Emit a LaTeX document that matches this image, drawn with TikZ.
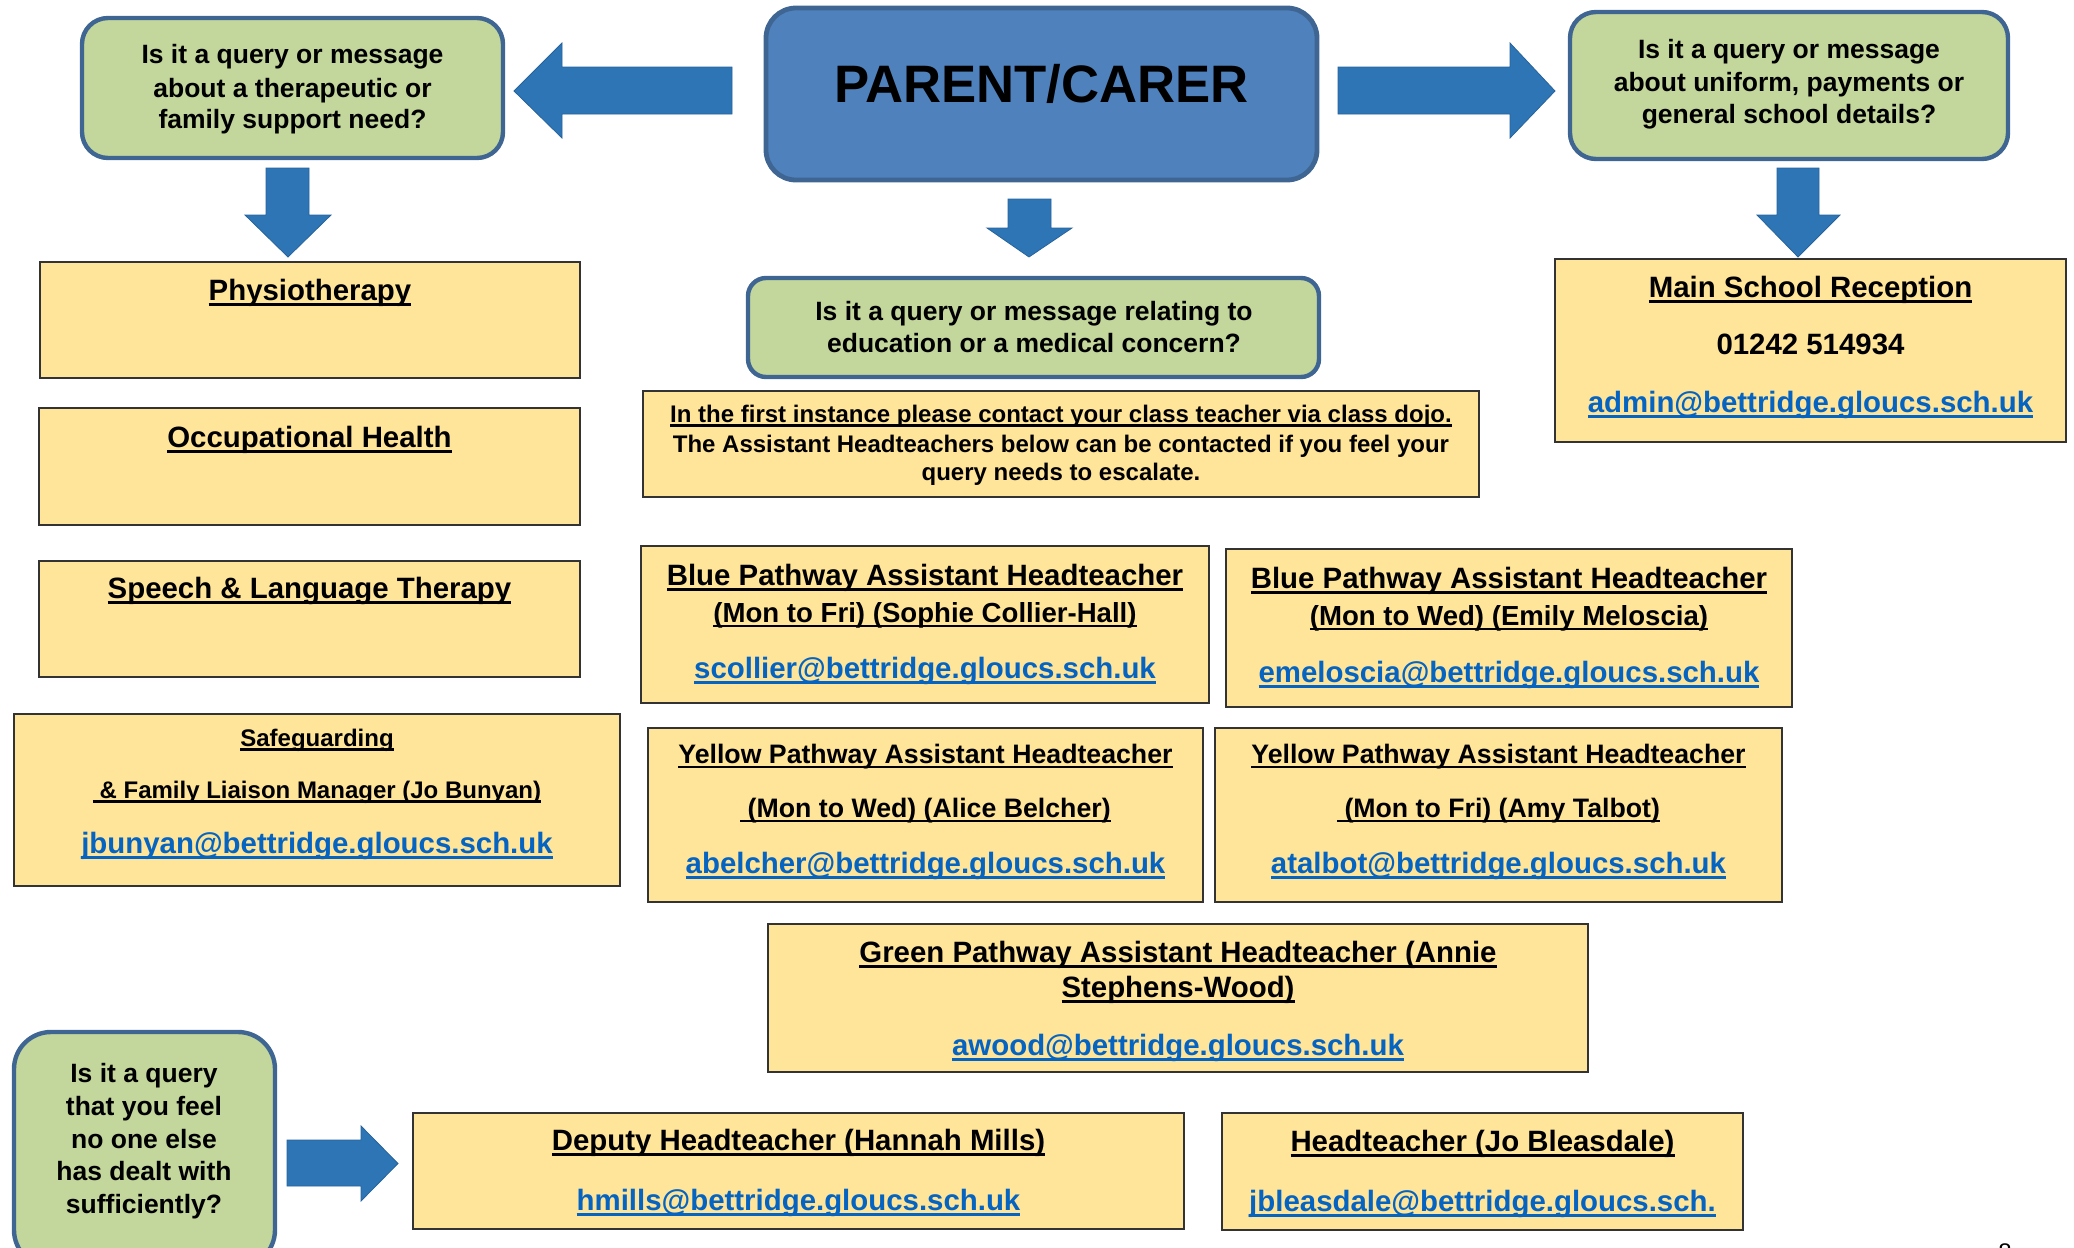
\documentclass[tikz,border=0pt]{standalone}
\usepackage{fontspec}
\setmainfont{Liberation Sans}

\definecolor{qgreen}{HTML}{C3D69B}
\definecolor{qedge}{HTML}{3F6592}
\definecolor{parentfill}{HTML}{4F81BD}
\definecolor{arrowblue}{HTML}{2E75B6}
\definecolor{ylw}{HTML}{FFE599}
\definecolor{linkblue}{HTML}{0563C1}

% underline set at a fixed depth below the baseline, through descenders
\newcommand\ulx[1]{\setbox0=\hbox{#1}\rlap{\rule[-0.19em]{\wd0}{0.09em}}\box0}

\tikzset{
  qbox/.style={draw=qedge, line width=2.2pt, fill=qgreen, rounded corners=13pt, inner sep=0pt},
  parentbox/.style={draw=qedge, line width=2.4pt, fill=parentfill, rounded corners=15pt, inner sep=0pt},
  ybox/.style={draw=black!80, line width=1pt, fill=ylw, inner sep=0pt},
  blockarrow/.style={fill=arrowblue, draw=arrowblue!85!black, line width=0.4pt, line join=miter},
  tx/.style={anchor=base, inner sep=0pt, outer sep=0pt},
  fq/.style={tx, font=\fontsize{13.25}{15}\selectfont\bfseries},
  fbig/.style={tx, font=\fontsize{14.7}{17}\selectfont\bfseries},
  fmid/.style={tx, font=\fontsize{13.8}{16}\selectfont\bfseries},
  fyel/.style={tx, font=\fontsize{13.35}{16}\selectfont\bfseries},
  fsmall/.style={tx, font=\fontsize{12}{14}\selectfont\bfseries},
  fparent/.style={tx, font=\fontsize{26.35}{30}\selectfont\bfseries},
  link/.style={fbig, text=linkblue},
}

\begin{document}
\begin{tikzpicture}[x=0.5pt,y=-0.5pt]
\useasboundingbox (0,0) rectangle (2074,1248);
\clip (0,0) rectangle (2074,1248);

% ---------- question boxes and the parent/carer box ----------
\node[qbox, minimum width=210.5pt, minimum height=70pt] (qleft) at (292.5,88) {};
\node[fq] (qleft1) at (292.5,63) {Is it a query or message};
\node[fq] (qleft2) at (292.5,97) {about a therapeutic or};
\node[fq] (qleft3) at (292.5,128) {family support need?};

\node[parentbox, minimum width=275.5pt, minimum height=86pt] (parent) at (1041.5,94) {};
\node[fparent] (parentt) at (1041.5,102) {PARENT/CARER};

\node[qbox, minimum width=219pt, minimum height=73.5pt] (qright) at (1789,85.5) {};
\node[fq] (qright1) at (1789,58) {Is it a query or message};
\node[fq] (qright2) at (1789,91) {about uniform, payments or};
\node[fq] (qright3) at (1789,123) {general school details?};

\node[qbox, rounded corners=9pt, minimum width=285.5pt, minimum height=49.5pt] (qcentre) at (1033.5,327.5) {};
\node[fq] (qcentre1) at (1034,320) {Is it a query or message relating to};
\node[fq] (qcentre2) at (1034,352) {education or a medical concern?};

\node[qbox, rounded corners=18.5pt, minimum width=130.5pt, minimum height=117.5pt] (qbottom) at (144.5,1149.5) {};
\node[fq] (qbottom1) at (144,1082) {Is it a query};
\node[fq] (qbottom2) at (144,1115) {that you feel};
\node[fq] (qbottom3) at (144,1148) {no one else};
\node[fq] (qbottom4) at (144,1180) {has dealt with};
\node[fq] (qbottom5) at (144,1213) {sufficiently?};

% ---------- block arrows ----------
% left from parent/carer
\filldraw[blockarrow] (732,67) -- (562,67) -- (562,43) -- (514,91) -- (562,138) -- (562,114) -- (732,114) -- cycle;
% right from parent/carer
\filldraw[blockarrow] (1338,67) -- (1510,67) -- (1510,43) -- (1555,91) -- (1510,138) -- (1510,114) -- (1338,114) -- cycle;
% down, left column
\filldraw[blockarrow] (266,168) -- (309,168) -- (309,215) -- (331,215) -- (288,257) -- (245,215) -- (266,215) -- cycle;
% down, centre
\filldraw[blockarrow] (1008,199) -- (1051,199) -- (1051,228) -- (1072,228) -- (1029,257) -- (987,228) -- (1008,228) -- cycle;
% down, right column
\filldraw[blockarrow] (1777,168) -- (1819,168) -- (1819,215) -- (1840,215) -- (1798,257) -- (1757,215) -- (1777,215) -- cycle;
% right, bottom row
\filldraw[blockarrow] (287,1140) -- (361,1140) -- (361,1126) -- (398,1163.5) -- (361,1201) -- (361,1186) -- (287,1186) -- cycle;

% ---------- therapy and family support column ----------
\node[ybox, minimum width=270pt, minimum height=58pt] (physio) at (310,320) {};
\node[fbig] (physiot) at (310,300) {\ulx{Physiotherapy}};

\node[ybox, minimum width=270.5pt, minimum height=58.5pt] (occ) at (309.5,466.5) {};
\node[fbig] (occt) at (309.5,447) {\ulx{Occupational Health}};

\node[ybox, minimum width=270.5pt, minimum height=58pt] (speech) at (309.5,619) {};
\node[fbig] (speecht) at (309.5,598) {\ulx{Speech \& Language Therapy}};

\node[ybox, minimum width=303pt, minimum height=86pt] (safe) at (317,800) {};
\node[fsmall] (safe1) at (317,746) {\ulx{Safeguarding}};
\node[fsmall] (safe2) at (317,798) {\ulx{\ \& Family Liaison Manager (Jo Bunyan)}};
\node[link] (safe3) at (317,853) {\ulx{jbunyan@bettridge.gloucs.sch.uk}};

% ---------- school office ----------
\node[ybox, minimum width=255.5pt, minimum height=91.5pt] (recep) at (1810.5,350.5) {};
\node[fbig] (recep1) at (1810.5,297) {\ulx{Main School Reception}};
\node[fbig] (recep2) at (1810.5,354) {01242 514934};
\node[link] (recep3) at (1810.5,412) {\ulx{admin@bettridge.gloucs.sch.uk}};

% ---------- education and medical ----------
\node[ybox, minimum width=418pt, minimum height=53pt] (inst) at (1061,444) {};
\node[fsmall] (inst1) at (1061,422) {\ulx{In the first instance please contact your class teacher via class dojo.}};
\node[fsmall] (inst2) at (1061,452) {The Assistant Headteachers below can be contacted if you feel your};
\node[fsmall] (inst3) at (1061,480) {query needs to escalate.};

\node[ybox, minimum width=284pt, minimum height=78.5pt] (blue1) at (925,624.5) {};
\node[fbig] (blue1a) at (925,585) {\ulx{Blue Pathway Assistant Headteacher}};
\node[fmid] (blue1b) at (925,622) {\ulx{(Mon to Fri) (Sophie Collier-Hall)}};
\node[link] (blue1c) at (925,678) {\ulx{scollier@bettridge.gloucs.sch.uk}};

\node[ybox, minimum width=283pt, minimum height=79pt] (blue2) at (1509,628) {};
\node[fbig] (blue2a) at (1509,588) {\ulx{Blue Pathway Assistant Headteacher}};
\node[fmid] (blue2b) at (1509,625) {\ulx{(Mon to Wed) (Emily Meloscia)}};
\node[link] (blue2c) at (1509,682) {\ulx{emeloscia@bettridge.gloucs.sch.uk}};

\node[ybox, minimum width=277.5pt, minimum height=87pt] (yel1) at (925.5,815) {};
\node[fyel] (yel1a) at (925.5,763) {\ulx{Yellow Pathway Assistant Headteacher}};
\node[fyel] (yel1b) at (925.5,817) {\ulx{\ (Mon to Wed) (Alice Belcher)}};
\node[link] (yel1c) at (925.5,873) {\ulx{abelcher@bettridge.gloucs.sch.uk}};

\node[ybox, minimum width=283.5pt, minimum height=87pt] (yel2) at (1498.5,815) {};
\node[fyel] (yel2a) at (1498.5,763) {\ulx{Yellow Pathway Assistant Headteacher}};
\node[fyel] (yel2b) at (1498.5,817) {\ulx{\ (Mon to Fri) (Amy Talbot)}};
\node[link] (yel2c) at (1498.5,873) {\ulx{atalbot@bettridge.gloucs.sch.uk}};

\node[ybox, minimum width=410pt, minimum height=74pt] (green) at (1178,998) {};
\node[fbig] (green1) at (1178,962) {\ulx{Green Pathway Assistant Headteacher (Annie}};
\node[fbig] (green2) at (1178,997) {\ulx{Stephens-Wood)}};
\node[link] (green3) at (1178,1055) {\ulx{awood@bettridge.gloucs.sch.uk}};

% ---------- escalation ----------
\node[ybox, minimum width=385.5pt, minimum height=58pt] (deputy) at (798.5,1171) {};
\node[fbig] (deputy1) at (798.5,1150) {\ulx{Deputy Headteacher (Hannah Mills)}};
\node[link] (deputy2) at (798.5,1210) {\ulx{hmills@bettridge.gloucs.sch.uk}};

\node[ybox, minimum width=260.5pt, minimum height=58.5pt] (head) at (1482.5,1171.5) {};
\node[fbig] (head1) at (1482.5,1151) {\ulx{Headteacher (Jo Bleasdale)}};
\node[link] (head2) at (1482.5,1211) {\ulx{jbleasdale@bettridge.gloucs.sch.}};

% page number at the foot
\node[fsmall, font=\fontsize{12}{14}\selectfont] (pageno) at (2005,1260) {8};
\end{tikzpicture}
\end{document}
